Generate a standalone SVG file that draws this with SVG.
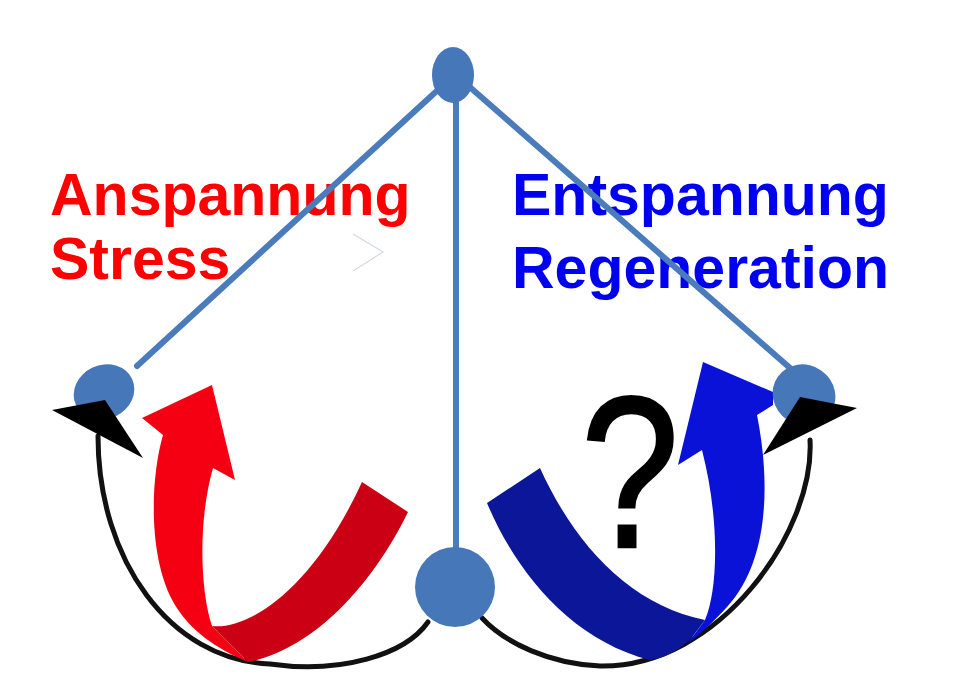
<svg xmlns="http://www.w3.org/2000/svg" width="963" height="687" viewBox="0 0 963 687">
<style>
.lbl{font-family:"Liberation Sans",Arial,sans-serif;font-weight:bold;font-size:59px}
.red{fill:#FF0000}
.blue{fill:#0000F0}
.edge{stroke:#4A7CBC;stroke-width:6;fill:none;stroke-linecap:round}
.arc{stroke:#111;stroke-width:5;fill:none;stroke-linecap:round}
.node{fill:#4677B8}
.head{fill:#000}
</style>
<rect width="963" height="687" fill="#fff"/>
<g id="labels">
<text class="lbl red" x="50" y="215">Anspannung</text>
<text class="lbl red" x="50" y="279">Stress</text>
<text class="lbl blue" x="512" y="215">Entspannung</text>
<text class="lbl blue" x="512" y="288">Regeneration</text>
</g>
<polyline points="353,234 383,252 353,271" fill="none" stroke="#d4d8e4" stroke-width="1.2"/>
<g id="connectors">
<line class="edge" x1="440" y1="88" x2="137" y2="366"/>
<line class="edge" x1="464" y1="82" x2="790" y2="368"/>
<line class="edge" x1="456" y1="90" x2="456" y2="552"/>
<path class="arc" d="M428 622 C405 655,340 674,270 664 C170 660,98 560,98 436"/>
<path class="arc" d="M482 618 C505 643,550 664,600 666 C720 668,815 530,810 440"/>
</g>
<g id="stress-arrow">
<path fill="#F50012" d="M163 435 C150 480,148 560,175 605 C190 630,215 648,248 662 L212 626 C200 590,198 520,213 468 L235 480 L212 385 L142 418 Z"/>
<path fill="#CC0014" d="M212 626 C245 630,310 595,362 482 L408 512 C370 590,310 650,248 662 Z"/>
</g>
<g id="regeneration-arrow">
<path fill="#0C1698" d="M487 503 L540 468 C575 545,630 605,705 620 L690 640 C675 652,665 658,650 660 C570 640,515 570,487 503 Z"/>
<path fill="#0A12D8" d="M705 620 C718 590,720 520,702 450 L678 465 L703 362 L773 392 L773 405 L757 415 C770 480,770 560,727 607 C715 620,700 635,688 643 Z"/>
</g>
<text id="question" x="0" y="0" text-anchor="middle" font-family="'Liberation Sans',Arial,sans-serif" font-size="216" fill="#000" stroke="#000" stroke-width="2.5" transform="translate(630 547) scale(0.82 1)">?</text>
<g id="node-top"><ellipse class="node" cx="453" cy="75" rx="21" ry="28"/></g>
<g id="node-left"><ellipse class="node" cx="104" cy="392" rx="31" ry="27" transform="rotate(-25 104 392)"/></g>
<g id="node-right"><ellipse class="node" cx="804" cy="395" rx="32" ry="30" transform="rotate(35 804 395)"/></g>
<g id="node-bottom"><circle class="node" cx="455" cy="587" r="40"/></g>
<g id="arrowheads">
<polygon class="head" points="52,410 105,400 143,458"/>
<polygon class="head" points="800,397 857,408 763,455"/>
</g>
</svg>
